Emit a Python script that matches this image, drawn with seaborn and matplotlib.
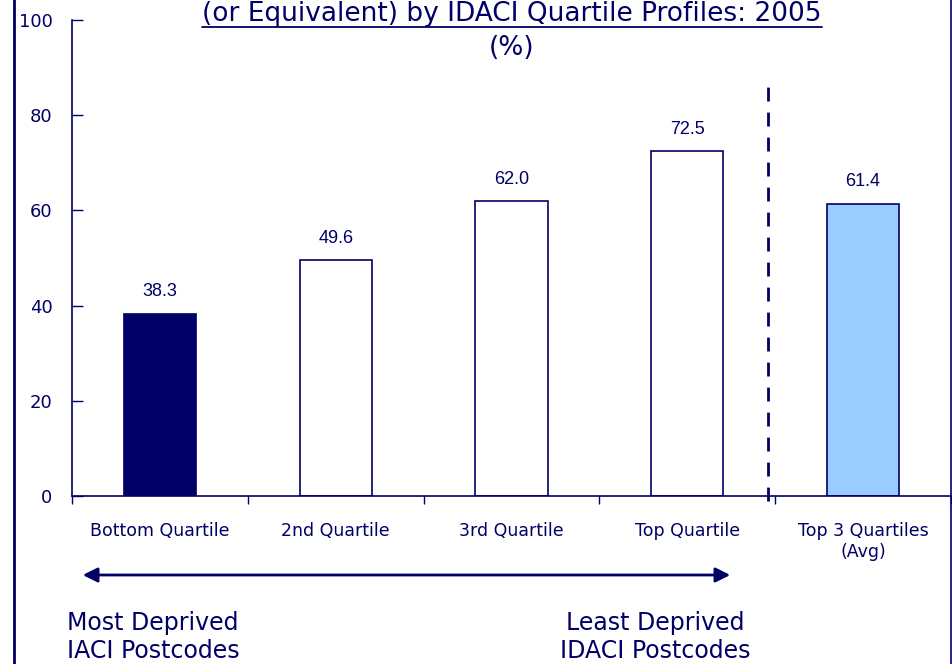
import pandas as pd
import numpy as np
import matplotlib.pyplot as plt
import seaborn as sns
from matplotlib.lines import Line2D

# Data
categories = ['Bottom Quartile', '2nd Quartile', '3rd Quartile', 'Top Quartile', 'Top 3 Quartiles\n(Avg)']
values = [38.3, 49.6, 62.0, 72.5, 61.4]
bar_colors = ['#000066', '#FFFFFF', '#FFFFFF', '#FFFFFF', '#99CCFF']
yticks = [0, 20, 40, 60, 80, 100]

navy = '#000066'

sns.set_style('white')
plt.rcParams['font.family'] = ['DejaVu Sans']

df = pd.DataFrame({'cat': categories, 'val': values})

fig = plt.figure(figsize=(9.53, 6.64), dpi=100)
ax = fig.add_axes([72 / 953, 1 - 496 / 664, (951 - 72) / 953, (496 - 20) / 664])

sns.barplot(data=df, x='cat', y='val', hue='cat', palette=bar_colors, legend=False,
            saturation=1, width=0.41, edgecolor=navy, linewidth=1.2, ax=ax)

# value labels
for i, v in enumerate(values):
    ax.text(i, v + 2.8, f'{v:.1f}', ha='center', va='bottom', fontsize=13,
            color=navy, family=['Liberation Sans', 'DejaVu Sans'])

ax.set_ylim(0, 100)
ax.set_xlim(-0.5, 4.5)
ax.set_yticks(yticks)
ax.tick_params(axis='y', left=True, direction='in', length=8, width=1, color=navy,
               labelsize=13, labelcolor=navy, pad=14)
ax.set_xticks(range(len(categories)))
ax.set_xticklabels(categories)
ax.tick_params(axis='x', which='major', bottom=True, length=0, pad=19, labelsize=12.5, labelcolor=navy)
ax.set_xticks(np.arange(-0.5, 5, 1), minor=True)
ax.tick_params(axis='x', which='minor', bottom=True, direction='out', length=6, width=1, color=navy)
ax.set_xlabel('')
ax.set_ylabel('')

for s in ['top', 'right']:
    ax.spines[s].set_visible(False)
for s in ['left', 'bottom']:
    ax.spines[s].set_color(navy)
    ax.spines[s].set_linewidth(1.2)

# dashed separator
ax.plot([3.46, 3.46], [-1, 86.8], color=navy, linestyle=(0, (5, 4)), linewidth=2, clip_on=False)

# frame lines of the slide
fig.add_artist(Line2D([14 / 953, 14 / 953], [0, 1], color=navy, linewidth=2))
fig.add_artist(Line2D([951 / 953, 951 / 953], [0, 1], color=navy, linewidth=1.2))

# title (top line cut off in the reference)
t1 = fig.text(512 / 953, 1 - 14 / 664, '(or Equivalent) by IDACI Quartile Profiles: 2005',
              ha='center', va='center', fontsize=19, color=navy)
fig.text(512 / 953, 1 - 48 / 664, '(%)', ha='center', va='center', fontsize=19, color=navy)
fig.canvas.draw()
bb = t1.get_window_extent().transformed(fig.transFigure.inverted())
fig.add_artist(Line2D([bb.x0, bb.x1], [bb.y0 + 0.0, bb.y0 + 0.0], color=navy, linewidth=1.3))

# arrow
ax.annotate('', xy=(80 / 953, 1 - 575 / 664), xytext=(733 / 953, 1 - 575 / 664),
            xycoords='figure fraction', textcoords='figure fraction',
            arrowprops=dict(arrowstyle='<|-|>', color=navy, lw=2, mutation_scale=22),
            annotation_clip=False)

fig.text(153 / 953, 1 - 637 / 664, 'Most Deprived\nIACI Postcodes', ha='center', va='center',
         fontsize=17, color=navy, linespacing=1.25)
fig.text(655 / 953, 1 - 637 / 664, 'Least Deprived\nIDACI Postcodes', ha='center', va='center',
         fontsize=17, color=navy, linespacing=1.25)

plt.savefig('out.png', dpi=100)
